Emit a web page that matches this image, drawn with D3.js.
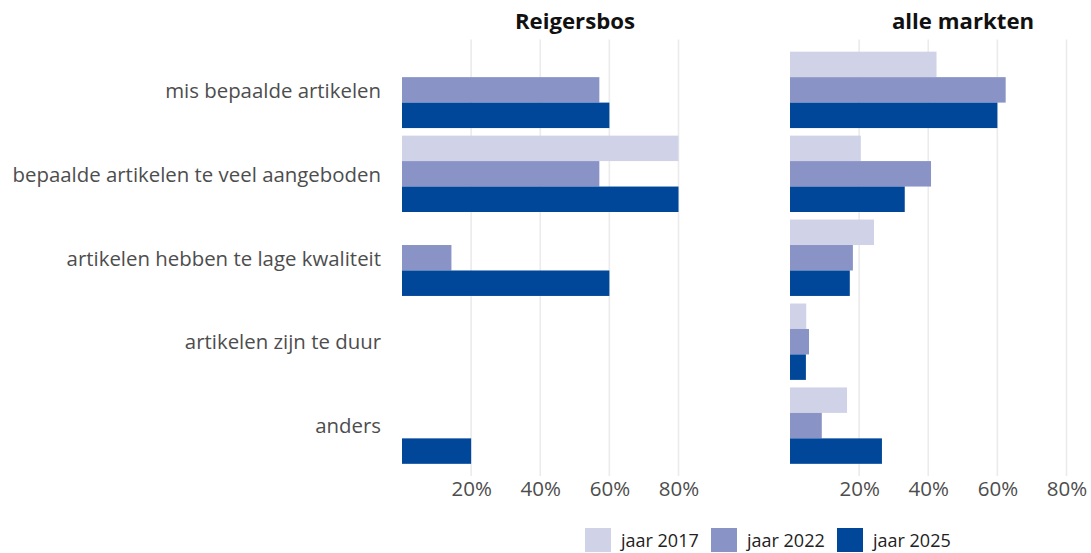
<!DOCTYPE html>
<html lang="nl">
<head>
    <meta charset="UTF-8">
    <title>Klachten over het aanbod</title>
    <script src="https://cdn.jsdelivr.net/npm/d3@7"></script>
    <style>
        body { margin: 0; background: #fff; }
        svg text { font-family: "Open Sans", "DejaVu Sans", sans-serif; }
    </style>
</head>
<body>
<div id="chart"></div>
<script>
    // data (percentages), null = no bar
    const categories = [
        "mis bepaalde artikelen",
        "bepaalde artikelen te veel aangeboden",
        "artikelen hebben te lage kwaliteit",
        "artikelen zijn te duur",
        "anders"
    ]
    const years = ["jaar 2017", "jaar 2022", "jaar 2025"]
    const panels = ["Reigersbos", "alle markten"]

    const reigersbos2017 = [null, 80, null, null, null]
    const reigersbos2022 = [57.1, 57.1, 14.3, null, null]
    const reigersbos2025 = [60, 80, 60, null, 20]

    const alleMarkten2017 = [42.4, 20.5, 24.3, 4.7, 16.5]
    const alleMarkten2022 = [62.4, 40.8, 18.2, 5.5, 9.2]
    const alleMarkten2025 = [60, 33.2, 17.3, 4.6, 26.6]

    const tickValues = [20, 40, 60, 80]
    const colors = ["#d0d3e8", "#8a93c6", "#004699"]

    const w = 1091
    const h = 553

    const panelData = [
        [reigersbos2017, reigersbos2022, reigersbos2025],
        [alleMarkten2017, alleMarkten2022, alleMarkten2025]
    ]
    const panelX = [402, 790]
    const titleX = [575, 963]

    const svg = d3.select("#chart")
                .append("svg")
                .attr("width", w)
                .attr("height", h)

    const yScale = d3.scaleBand()
                .domain(categories)
                .range([39.5, 476])
                .paddingInner(0.09)
                .paddingOuter(0.145)

    const yInner = d3.scaleBand()
                .domain(years)
                .range([0, yScale.bandwidth()])

    panels.forEach((name, p) => {
        const xScale = d3.scaleLinear()
                    .domain([0, 80])
                    .range([panelX[p], panelX[p] + 276.5])

        const g = svg.append("g")

        // grid
        g.selectAll("line.grid")
            .data(tickValues)
            .enter()
            .append("line")
            .attr("class", "grid")
            .attr("x1", d => xScale(d))
            .attr("x2", d => xScale(d))
            .attr("y1", 39.5)
            .attr("y2", 476)
            .attr("stroke", "#ebebeb")
            .attr("stroke-width", 1.6)

        // bars
        years.forEach((yr, s) => {
            const vals = panelData[p][s]
            g.selectAll("rect.s" + s)
                .data(categories.map((c, i) => ({c: c, v: vals[i]})).filter(d => d.v !== null))
                .enter()
                .append("rect")
                .attr("class", "s" + s)
                .attr("x", xScale(0))
                .attr("y", d => yScale(d.c) + yInner(yr))
                .attr("width", d => xScale(d.v) - xScale(0))
                .attr("height", yInner.bandwidth())
                .attr("fill", colors[s])
        })

        // x axis
        const xAxis = d3.axisBottom(xScale)
                    .tickValues(tickValues)
                    .tickFormat(d => d + "%")
                    .tickSize(0)
                    .tickPadding(0)

        const ax = g.append("g")
            .attr("transform", "translate(0, 481)")
            .call(xAxis)
        ax.select(".domain").remove()
        ax.selectAll("text")
            .attr("dy", "0.71em")
            .style("font-size", "20.5px")
            .attr("fill", "#4d4d4d")

        // panel title
        svg.append("text")
            .attr("x", titleX[p])
            .attr("y", 29)
            .attr("text-anchor", "middle")
            .style("font-size", "22.2px")
            .style("font-weight", "bold")
            .attr("fill", "#111")
            .text(name)
    })

    // category labels
    const yAxis = d3.axisLeft(yScale).tickSize(0).tickPadding(0)
    const ay = svg.append("g")
        .attr("transform", "translate(381, 0)")
        .call(yAxis)
    ay.select(".domain").remove()
    ay.selectAll("text")
        .attr("dy", "0.38em")
        .style("font-size", "20.4px")
        .attr("fill", "#4d4d4d")

    // legend
    const legendX = [585, 711, 837]
    const legend = svg.append("g")
    years.forEach((yr, s) => {
        legend.append("rect")
            .attr("x", legendX[s])
            .attr("y", 528)
            .attr("width", 26)
            .attr("height", 24)
            .attr("fill", colors[s])
        legend.append("text")
            .attr("x", legendX[s] + 36)
            .attr("y", 547)
            .style("font-size", "18px")
            .attr("fill", "#222")
            .text(yr)
    })
</script>
</body>
</html>
